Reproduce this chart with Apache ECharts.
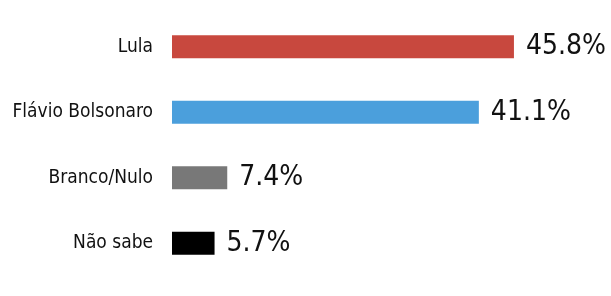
<!DOCTYPE html>
<html>
<head>
<meta charset="utf-8">
<script src="https://cdn.jsdelivr.net/npm/echarts@6/dist/echarts.min.js"></script>
<style>html,body{margin:0;padding:0;background:#fff}#c{width:611px;height:296px}</style>
</head>
<body>
<div id="c"></div>
<script>
const categories = ['Lula', 'Flávio Bolsonaro', 'Branco/Nulo', 'Não sabe'];
const values = [45.8, 41.1, 7.4, 5.7];
const colors = ['#c8483e', '#4b9fdc', '#787878', '#000000'];

const FONT = '"Liberation Sans Narrow", "DejaVu Sans Condensed", sans-serif';
const chart = echarts.init(document.getElementById('c'));
chart.setOption({
  animation: false,
  grid: { left: 172, top: 14, width: 373.3, height: 262, containLabel: false, outerBoundsMode: 'none' },
  xAxis: { type: 'value', min: 0, max: 50, show: false },
  yAxis: {
    type: 'category', data: categories, inverse: true,
    axisLine: { show: false }, axisTick: { show: false }, splitLine: { show: false },
    axisLabel: { margin: 19, fontSize: 19, color: '#111', fontFamily: FONT }
  },
  series: [{
    type: 'bar', barWidth: 23,
    data: values.map((v, i) => ({ value: v, itemStyle: { color: colors[i] } })),
    label: {
      show: true, position: 'right', distance: 12,
      fontSize: 28, color: '#111', fontFamily: FONT,
      formatter: p => p.value.toFixed(1) + '%'
    }
  }]
});
</script>
</body>
</html>
